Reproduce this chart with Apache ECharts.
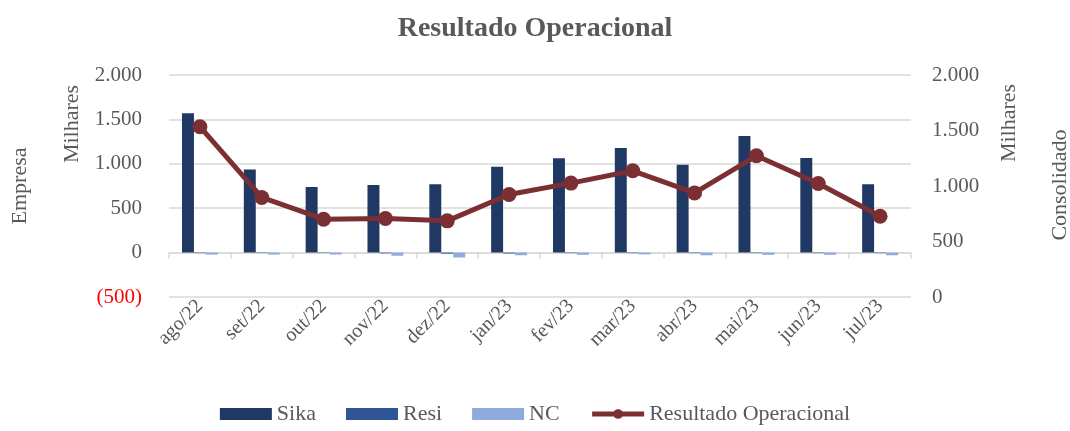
<!DOCTYPE html>
<html>
<head>
<meta charset="utf-8">
<script src="https://cdn.jsdelivr.net/npm/echarts@6/dist/echarts.min.js"></script>
<style>html,body{margin:0;padding:0;background:#fff;}#c{width:1070px;height:431px;}</style>
</head>
<body>
<div id="c"></div>
<script>
const categories = ['ago/22','set/22','out/22','nov/22','dez/22','jan/23','fev/23','mar/23','abr/23','mai/23','jun/23','jul/23'];
const sika = [1570, 935, 740, 762, 770, 968, 1063, 1179, 988, 1314, 1066, 770];
const resi = [-6, -5, -5, -8, -12, -10, -6, -6, -6, -6, -6, -6];
const nc = [-22, -22, -22, -35, -55, -30, -25, -20, -30, -25, -25, -30];
const resultado = [1534, 897, 701, 707, 686, 924, 1026, 1137, 938, 1272, 1023, 728];
const leftTicks = {min: -500, max: 2000, interval: 500};
const rightTicks = {min: 0, max: 2000, interval: 500};

const FONT = '"Liberation Serif", "DejaVu Serif", serif';
const GREY = '#595959';
function fmt(v) {
  const a = Math.abs(v);
  const s = a >= 1000 ? Math.floor(a / 1000) + '.' + String(a % 1000).padStart(3, '0') : String(a);
  return v < 0 ? '(' + s + ')' : s;
}
const chart = echarts.init(document.getElementById('c'));
chart.setOption({
  backgroundColor: '#fff',
  animation: false,
  title: {
    text: 'Resultado Operacional', left: 'center', top: 10,
    textStyle: {fontFamily: FONT, fontSize: 28, fontWeight: 'bold', color: GREY}
  },
  grid: {left: 169, right: 159, top: 75, bottom: 134},
  legend: {
    bottom: 1, left: 'center', itemWidth: 52, itemHeight: 12, itemGap: 30,
    textStyle: {fontFamily: FONT, fontSize: 22, color: GREY},
    data: [
      {name: 'Sika', icon: 'rect'},
      {name: 'Resi', icon: 'rect'},
      {name: 'NC', icon: 'rect'},
      {name: 'Resultado Operacional', lineStyle: {width: 5}}
    ]
  },
  xAxis: {
    type: 'category', data: categories,
    axisLine: {onZero: true, lineStyle: {color: '#D9D9D9', width: 1.5}},
    axisTick: {show: true, length: 6, lineStyle: {color: '#D9D9D9', width: 1.5}},
    axisLabel: {rotate: 45, margin: 6, fontFamily: FONT, fontSize: 20, color: GREY}
  },
  yAxis: [
    {
      type: 'value', min: leftTicks.min, max: leftTicks.max, interval: leftTicks.interval,
      axisLine: {show: false}, axisTick: {show: false},
      splitLine: {lineStyle: {color: '#D9D9D9', width: 1.5}},
      axisLabel: {margin: 27, fontFamily: FONT, fontSize: 21, formatter: fmt,
        color: function (v) { return Number(v) < 0 ? '#FF0000' : GREY; }}
    },
    {
      type: 'value', min: rightTicks.min, max: rightTicks.max, interval: rightTicks.interval,
      axisLine: {show: false}, axisTick: {show: false}, splitLine: {show: false},
      axisLabel: {margin: 21, fontFamily: FONT, fontSize: 21, formatter: fmt, color: GREY}
    }
  ],
  graphic: [
    {type: 'text', x: 20, y: 186, rotation: Math.PI / 2, style: {text: 'Empresa', font: '22px ' + FONT, fill: GREY, align: 'center', verticalAlign: 'middle'}},
    {type: 'text', x: 72, y: 124, rotation: Math.PI / 2, style: {text: 'Milhares', font: '22px ' + FONT, fill: GREY, align: 'center', verticalAlign: 'middle'}},
    {type: 'text', x: 1009, y: 123, rotation: Math.PI / 2, style: {text: 'Milhares', font: '22px ' + FONT, fill: GREY, align: 'center', verticalAlign: 'middle'}},
    {type: 'text', x: 1060, y: 185, rotation: Math.PI / 2, style: {text: 'Consolidado', font: '22px ' + FONT, fill: GREY, align: 'center', verticalAlign: 'middle'}}
  ],
  series: [
    {name: 'Sika', type: 'bar', data: sika, barGap: '0%', barCategoryGap: '42%', itemStyle: {color: '#1F3864'}},
    {name: 'Resi', type: 'bar', data: resi, itemStyle: {color: '#2F5597'}},
    {name: 'NC', type: 'bar', data: nc, itemStyle: {color: '#8FAADC'}},
    {name: 'Resultado Operacional', type: 'line', yAxisIndex: 1, data: resultado,
      symbol: 'circle', symbolSize: 15, z: 5,
      lineStyle: {color: '#7B2F33', width: 5}, itemStyle: {color: '#7B2F33'}}
  ]
});
</script>
</body>
</html>
